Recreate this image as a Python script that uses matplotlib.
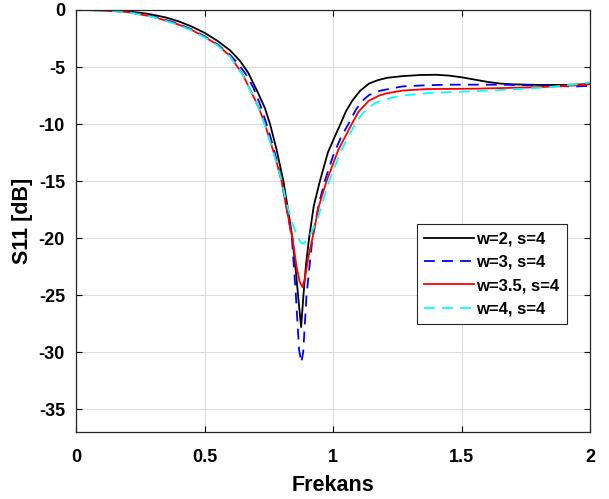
import matplotlib
matplotlib.use("Agg")
import matplotlib.pyplot as plt

plt.rcParams["font.family"] = ["Liberation Sans", "DejaVu Sans"]
plt.rcParams["font.weight"] = "bold"

# w=2, s=4
f_w2 = [0, 0.1, 0.2, 0.26, 0.3, 0.35, 0.4, 0.45, 0.5, 0.55, 0.6, 0.638, 0.67,
        0.709, 0.735, 0.755, 0.78, 0.807, 0.825, 0.842, 0.855, 0.866, 0.876,
        0.885, 0.895, 0.907, 0.925, 0.949, 0.98, 1.005, 1.029, 1.05, 1.075,
        1.105, 1.14, 1.175, 1.21, 1.27, 1.34, 1.4, 1.45, 1.5, 1.55, 1.6, 1.65,
        1.7, 1.8, 1.9, 2.0]
s_w2 = [0, -0.02, -0.12, -0.27, -0.42, -0.66, -1.0, -1.45, -2.0, -2.7, -3.55,
        -4.46, -5.5, -7.3, -8.6, -10.0, -12.2, -15.0, -17.5, -20.0, -22.8, -25.5,
        -27.8, -25.0, -22.3, -20.0, -17.2, -15.0, -12.5, -11.2, -10.0, -8.9,
        -7.95, -7.1, -6.45, -6.15, -5.95, -5.8, -5.7, -5.68, -5.75, -5.9, -6.1,
        -6.3, -6.45, -6.52, -6.57, -6.57, -6.5]

# w=3, s=4
f_w3 = [0, 0.1, 0.2, 0.3, 0.39, 0.45, 0.5, 0.55, 0.6, 0.63, 0.66, 0.69, 0.715,
        0.74, 0.76, 0.78, 0.8, 0.82, 0.84, 0.855, 0.868, 0.877, 0.884, 0.897,
        0.92, 0.945, 0.968, 1.0, 1.03, 1.06, 1.09, 1.12, 1.14, 1.18, 1.21, 1.27,
        1.365, 1.45, 1.55, 1.65, 1.75, 1.85, 1.95, 2.0]
s_w3 = [0, -0.03, -0.16, -0.55, -1.15, -1.7, -2.3, -3.0, -3.95, -4.7, -5.6, -6.8,
        -8.2, -9.9, -11.4, -13.1, -15.0, -17.4, -20.0, -24.8, -29.8, -30.9,
        -30.0, -25.0, -20.0, -17.0, -15.0, -12.8, -11.2, -10.0, -8.7, -7.85,
        -7.46, -7.1, -6.96, -6.7, -6.6, -6.55, -6.55, -6.55, -6.6, -6.68, -6.7,
        -6.65]

# w=3.5, s=4
f_w35 = [0, 0.1, 0.2, 0.3, 0.39, 0.45, 0.5, 0.55, 0.6, 0.612, 0.65, 0.684, 0.71,
         0.735, 0.76, 0.78, 0.8, 0.82, 0.842, 0.858, 0.87, 0.881, 0.89, 0.905,
         0.92, 0.945, 0.975, 1.02, 1.05, 1.073, 1.1, 1.14, 1.18, 1.21, 1.27,
         1.365, 1.45, 1.55, 1.65, 1.75, 1.85, 1.95, 2.0]
s_w35 = [0, -0.03, -0.18, -0.6, -1.2, -1.75, -2.35, -3.05, -4.05, -4.46, -5.7,
         -7.3, -8.5, -10.0, -11.8, -13.3, -15.0, -17.5, -20.0, -22.5, -23.8,
         -24.3, -23.6, -21.6, -20.0, -17.2, -15.0, -12.3, -11.0, -10.0, -8.9,
         -7.95, -7.5, -7.3, -7.07, -6.93, -6.92, -6.9, -6.85, -6.8, -6.72, -6.6,
         -6.5]

# w=4, s=4
f_w4 = [0, 0.1, 0.2, 0.3, 0.39, 0.45, 0.5, 0.55, 0.6, 0.65, 0.684, 0.71, 0.735,
        0.76, 0.78, 0.8, 0.82, 0.84, 0.86, 0.875, 0.885, 0.897, 0.91, 0.94,
        0.985, 1.03, 1.06, 1.086, 1.11, 1.14, 1.17, 1.21, 1.27, 1.365, 1.45,
        1.55, 1.65, 1.75, 1.85, 1.95, 2.0]
s_w4 = [0, -0.03, -0.2, -0.62, -1.25, -1.8, -2.4, -3.1, -4.1, -5.75, -7.35, -8.6,
        -10.1, -11.9, -13.4, -15.0, -17.0, -18.6, -19.8, -20.4, -20.5, -20.2,
        -19.8, -18.3, -15.0, -12.4, -11.1, -10.0, -9.2, -8.5, -8.1, -7.8, -7.5,
        -7.3, -7.2, -7.12, -7.02, -6.9, -6.75, -6.5, -6.35]

labels = ["w=2, s=4", "w=3, s=4", "w=3.5, s=4", "w=4, s=4"]

fig = plt.figure(figsize=(6.09, 4.99), dpi=100)
ax = fig.add_axes([0.1248, 0.1343, 0.8440, 0.8457])

ax.plot(f_w2, s_w2, color="#000000", linewidth=1.3, label=labels[0])
ax.plot(f_w3, s_w3, color="#0000ff", linewidth=1.3, dashes=(6, 4), label=labels[1])
ax.plot(f_w35, s_w35, color="#ff0000", linewidth=1.3, label=labels[2])
ax.plot(f_w4, s_w4, color="#00ffff", linewidth=1.3, dashes=(6, 4), label=labels[3])

ax.set_xlim(0, 2)
ax.set_ylim(-37, 0)
ax.set_xticks([0, 0.5, 1, 1.5, 2])
ax.set_xticklabels(["0", "0.5", "1", "1.5", "2"])
ax.set_yticks([0, -5, -10, -15, -20, -25, -30, -35])
ax.set_yticklabels(["0", "-5", "-10", "-15", "-20", "-25", "-30", "-35"])
ax.tick_params(axis="both", direction="in", top=True, right=True, labelsize=13,
               length=4, width=0.8, pad=8)
ax.tick_params(axis="x", pad=12)
for lbl in ax.get_xticklabels() + ax.get_yticklabels():
    lbl.set_fontweight("bold")
ax.grid(True, color="#dcdcdc", linewidth=0.8)
for spine in ax.spines.values():
    spine.set_linewidth(0.9)
    spine.set_color("#262626")

ax.set_xlabel("Frekans", fontsize=15.5, fontweight="bold", labelpad=7)
ax.set_ylabel("S11 [dB]", fontsize=15.5, fontweight="bold", labelpad=4)

leg = ax.legend(loc="upper left", bbox_to_anchor=(0.663, 0.493), fontsize=12,
                frameon=True, fancybox=False, framealpha=1, edgecolor="#262626",
                handlelength=3.0, handletextpad=0.1, borderpad=0.45,
                labelspacing=0.5, borderaxespad=0)
leg.get_frame().set_linewidth(0.8)
for t in leg.get_texts():
    t.set_fontweight("bold")

fig.savefig("out.png", dpi=100)
